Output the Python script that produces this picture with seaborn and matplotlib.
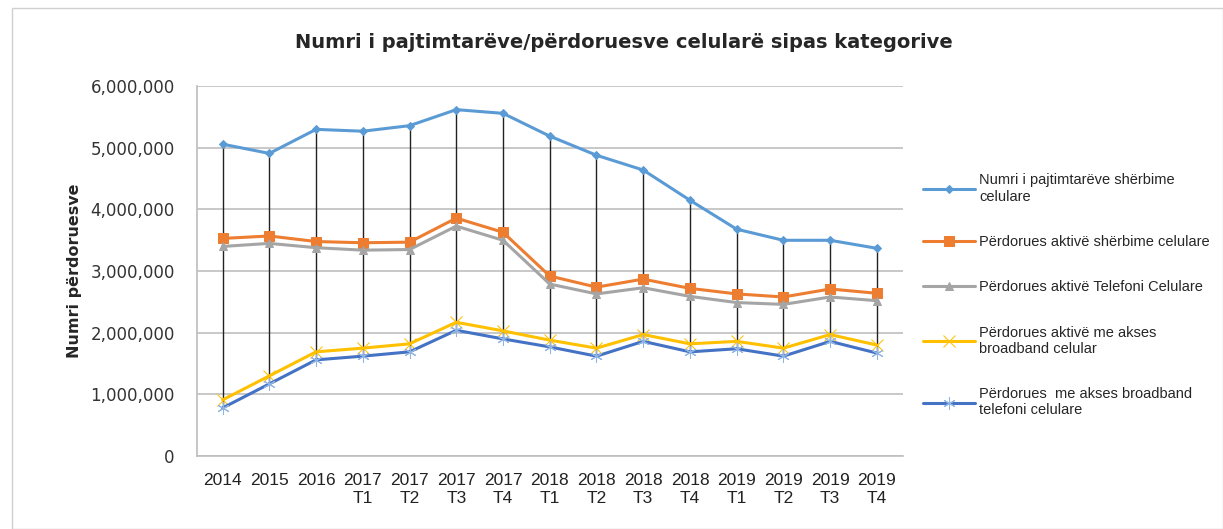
import matplotlib.pyplot as plt
import matplotlib.patches as mpatches
import numpy as np
import pandas as pd
import seaborn as sns

# categories on the x axis
periods = ['2014', '2015', '2016', '2017\nT1', '2017\nT2', '2017\nT3', '2017\nT4',
           '2018\nT1', '2018\nT2', '2018\nT3', '2018\nT4', '2019\nT1', '2019\nT2',
           '2019\nT3', '2019\nT4']

# series values
pajtimtare = [5060000, 4910000, 5300000, 5270000, 5360000, 5620000, 5560000,
              5190000, 4880000, 4640000, 4150000, 3680000, 3500000, 3500000, 3370000]
aktive_sherbime = [3530000, 3570000, 3480000, 3460000, 3470000, 3860000, 3630000,
                   2920000, 2740000, 2870000, 2720000, 2630000, 2580000, 2710000, 2640000]
aktive_telefoni = [3400000, 3450000, 3380000, 3340000, 3350000, 3730000, 3500000,
                   2790000, 2630000, 2730000, 2590000, 2490000, 2460000, 2580000, 2520000]
aktive_broadband = [910000, 1300000, 1690000, 1750000, 1820000, 2170000, 2030000,
                    1880000, 1750000, 1970000, 1820000, 1860000, 1750000, 1970000, 1800000]
broadband_telefoni = [780000, 1170000, 1560000, 1620000, 1690000, 2040000, 1900000,
                      1770000, 1620000, 1860000, 1690000, 1740000, 1620000, 1860000, 1670000]

labels = ['Numri i pajtimtarëve shërbime\ncelulare',
          'Përdorues aktivë shërbime celulare',
          'Përdorues aktivë Telefoni Celulare',
          'Përdorues aktivë me akses\nbroadband celular',
          'Përdorues  me akses broadband\ntelefoni celulare']
series = [pajtimtare, aktive_sherbime, aktive_telefoni, aktive_broadband, broadband_telefoni]
colors = ['#5B9BD5', '#ED7D31', '#A5A5A5', '#FFC000', '#4472C4']
markers = ['D', 's', '^', 'x', (6, 2, 0)]
msizes = [4, 7, 6, 8, 9]

sns.set_theme(style='white')
plt.rcParams['font.family'] = ['DejaVu Sans']

fig = plt.figure(figsize=(12.23, 5.29), dpi=100)
ax = fig.add_axes([0.161, 0.138, 0.577, 0.699])

x = np.arange(len(periods))
df = pd.DataFrame({'x': x})
for lab, vals in zip(labels, series):
    df[lab] = vals

# high-low lines (Excel style)
hi = df[labels].max(axis=1)
lo = df[labels].min(axis=1)
ax.vlines(df['x'], lo, hi, color='#222222', lw=1.0, zorder=1)

for lab, c, m, ms in zip(labels, colors, markers, msizes):
    mfc = '#8FB4E3' if lab.startswith('Përdorues  me') else c
    sns.lineplot(data=df, x='x', y=lab, color=c, marker=m, markersize=ms,
                 markeredgecolor=mfc, markerfacecolor=mfc, lw=2.2, ax=ax,
                 label=lab, zorder=3)

ax.set_xlim(-0.55, len(periods) - 0.45)
ax.set_ylim(0, 6000000)
ax.set_yticks(np.arange(0, 6000001, 1000000))
ax.yaxis.set_major_formatter(plt.FuncFormatter(lambda v, p: f'{int(v):,}'))
ax.set_xticks(x)
ax.set_xticklabels(periods, fontsize=12.5, family='Liberation Sans', linespacing=1.3)
ax.tick_params(axis='y', labelsize=12, colors='#333333', pad=10)
ax.tick_params(axis='x', colors='#222222', pad=12, length=0)
ax.grid(axis='y', color='#BFBFBF', lw=1.2)
for s in ['top', 'right']:
    ax.spines[s].set_visible(False)
ax.spines['left'].set_color('#BFBFBF')
ax.spines['bottom'].set_color('#BFBFBF')
ax.spines['bottom'].set_linewidth(1.2)

ax.set_xlabel('')
ax.set_ylabel('Numri përdoruesve', fontsize=11.5, fontweight='bold', labelpad=6)
fig.text(0.51, 0.92, 'Numri i pajtimtarëve/përdoruesve celularë sipas kategorive',
         ha='center', va='center', fontsize=14, fontweight='bold')

leg = ax.legend(loc='upper left', bbox_to_anchor=(1.01, 0.80), frameon=False,
                labelspacing=2.15, handlelength=3.6, handletextpad=0.25,
                prop={'family': 'Liberation Sans', 'size': 10.5})

# outer border
fig.patches.append(mpatches.Rectangle((0.01, 0.0), 0.99, 0.985, transform=fig.transFigure,
                                      fill=False, edgecolor='#D0D0D0', lw=1))

fig.savefig('out.png', dpi=100)
